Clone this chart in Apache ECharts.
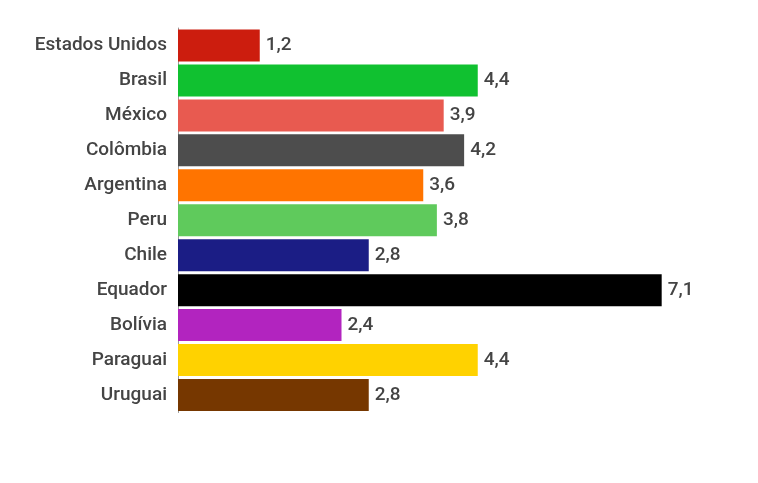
<!DOCTYPE html>
<html><head><meta charset="utf-8">
<script src="https://cdn.jsdelivr.net/npm/echarts@6/dist/echarts.min.js"></script>
<style>html,body{margin:0;padding:0;background:#fff}#c{width:758px;height:483px}</style>
</head><body><div id="c"></div>
<script>
const categories = ["Estados Unidos","Brasil","México","Colômbia","Argentina","Peru","Chile","Equador","Bolívia","Paraguai","Uruguai"];
const values = [1.2,4.4,3.9,4.2,3.6,3.8,2.8,7.1,2.4,4.4,2.8];
const colors = ["#cc1d0e","#10c130","#e85a50","#4d4d4d","#ff7400","#5fca5c","#1b1d85","#000000","#b224bf","#ffd200","#763700"];

const chart = echarts.init(document.getElementById('c'));
chart.setOption({
  animation:false,
  grid:{left:178,top:28,right:35,bottom:70.5},
  xAxis:{type:'value',min:0,max:8,show:false},
  yAxis:{type:'category',inverse:true,data:categories,
    axisLine:{lineStyle:{color:'#999',width:1}},axisTick:{show:false},
    axisLabel:{color:'#444',fontFamily:'Roboto',fontSize:19,fontWeight:500,margin:11}},
  series:[{type:'bar',barWidth:32,
    data:values.map((v,i)=>({value:v,itemStyle:{color:colors[i]}})),
    label:{show:true,position:'right',distance:6,color:'#444',fontFamily:'Roboto',fontSize:19,fontWeight:500,
      formatter:p=>String(p.value).replace('.',',')}}]
});
</script></body></html>
